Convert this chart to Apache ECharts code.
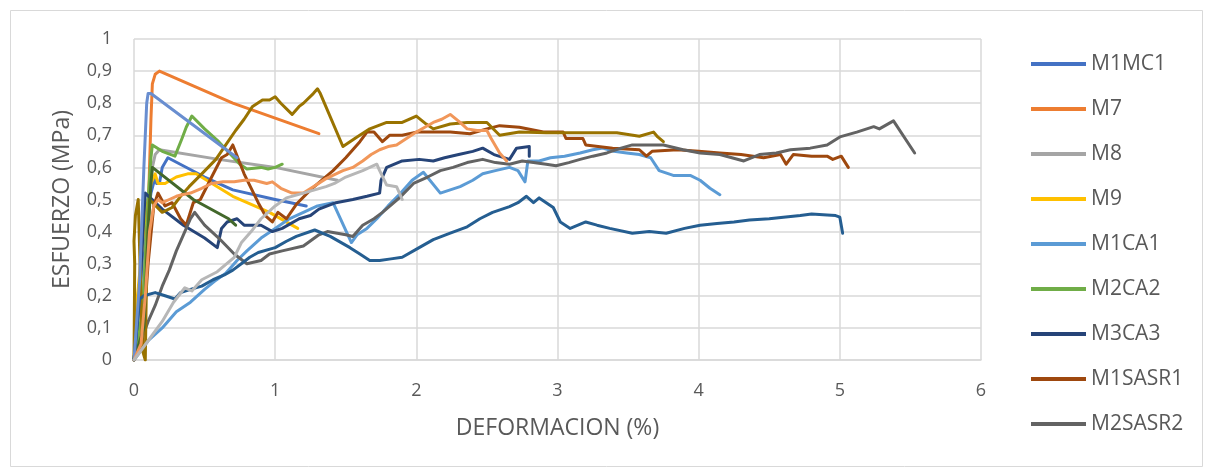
<!DOCTYPE html>
<html>
<head>
<meta charset="utf-8">
<script src="https://cdn.jsdelivr.net/npm/echarts@6/dist/echarts.min.js"></script>
<style>
  html, body { margin: 0; padding: 0; background: #ffffff; }
  #chart { width: 1208px; height: 470px; }
</style>
</head>
<body>
<div id="chart"></div>
<script>
// ---- data: [deformacion %, esfuerzo MPa] ----
const M1MC1 = [[0,0],[0.05,0.2],[0.09,0.42],[0.12,0.52],[0.15,0.57],[0.16,0.55],[0.18,0.55],[0.2,0.6],[0.24,0.63],[0.5,0.57],[0.7,0.53],[1.0,0.5],[1.22,0.48]];
const M7 = [[0,0],[0.06,0.1],[0.1,0.45],[0.12,0.75],[0.13,0.86],[0.15,0.89],[0.18,0.9],[0.7,0.8],[1.31,0.705]];
const M8 = [[0,0],[0.06,0.2],[0.1,0.45],[0.13,0.6],[0.15,0.64],[0.18,0.655],[0.6,0.625],[1.0,0.6],[1.44,0.56]];
const M9 = [[0,0],[0.01,0.1],[0.02,0.18],[0.08,0.45],[0.12,0.55],[0.15,0.58],[0.17,0.55],[0.22,0.55],[0.3,0.57],[0.38,0.58],[0.44,0.58],[0.7,0.51],[0.96,0.46],[1.16,0.41]];
const M1CA1 = [[0,0],[0.1,0.06],[0.2,0.1],[0.3,0.15],[0.4,0.18],[0.5,0.22],[0.57,0.245],[0.65,0.27],[0.73,0.31],[0.8,0.34],[0.9,0.38],[1.0,0.41],[1.1,0.44],[1.2,0.46],[1.3,0.48],[1.41,0.49],[1.54,0.366],[1.58,0.39],[1.65,0.41],[1.72,0.44],[1.8,0.48],[1.89,0.52],[1.97,0.56],[2.05,0.585],[2.17,0.52],[2.31,0.54],[2.4,0.56],[2.47,0.58],[2.56,0.59],[2.66,0.6],[2.72,0.59],[2.77,0.555],[2.79,0.62],[2.87,0.62],[2.95,0.63],[3.05,0.635],[3.16,0.645],[3.25,0.655],[3.32,0.66],[3.4,0.65],[3.49,0.645],[3.58,0.64],[3.66,0.63],[3.72,0.59],[3.82,0.575],[3.94,0.575],[4.01,0.56],[4.08,0.535],[4.15,0.515]];
const M2CA2 = [[0,0],[0.06,0.15],[0.1,0.5],[0.12,0.63],[0.13,0.67],[0.2,0.65],[0.29,0.635],[0.34,0.69],[0.37,0.725],[0.41,0.76],[0.5,0.72],[0.6,0.68],[0.75,0.61],[0.8,0.595],[0.9,0.6],[0.95,0.595],[1.0,0.6],[1.05,0.61]];
const M3CA3 = [[0,0],[0.04,0.2],[0.07,0.45],[0.08,0.52],[0.2,0.47],[0.35,0.42],[0.5,0.38],[0.59,0.35],[0.62,0.41],[0.66,0.43],[0.73,0.44],[0.78,0.42],[0.85,0.42],[0.9,0.42],[0.98,0.4],[1.05,0.41],[1.17,0.44],[1.25,0.45],[1.31,0.47],[1.43,0.49],[1.55,0.5],[1.65,0.51],[1.74,0.52],[1.75,0.56],[1.79,0.6],[1.9,0.62],[2.02,0.625],[2.12,0.62],[2.2,0.63],[2.3,0.64],[2.4,0.65],[2.47,0.66],[2.55,0.64],[2.66,0.625],[2.71,0.66],[2.8,0.665],[2.8,0.635]];
const M1SASR1 = [[0,0],[0.06,0.05],[0.1,0.3],[0.14,0.48],[0.17,0.52],[0.22,0.48],[0.27,0.49],[0.33,0.44],[0.37,0.42],[0.42,0.49],[0.47,0.5],[0.55,0.57],[0.62,0.63],[0.66,0.64],[0.7,0.67],[0.78,0.58],[0.88,0.49],[0.93,0.45],[0.98,0.43],[1.02,0.46],[1.08,0.44],[1.15,0.485],[1.25,0.53],[1.41,0.59],[1.5,0.63],[1.6,0.68],[1.65,0.71],[1.7,0.71],[1.76,0.68],[1.81,0.7],[1.9,0.7],[2.0,0.71],[2.24,0.71],[2.38,0.705],[2.5,0.72],[2.59,0.73],[2.73,0.725],[2.9,0.71],[3.04,0.71],[3.06,0.69],[3.18,0.69],[3.2,0.67],[3.39,0.66],[3.58,0.655],[3.63,0.635],[3.67,0.65],[3.85,0.655],[4.0,0.65],[4.15,0.645],[4.3,0.64],[4.46,0.63],[4.58,0.64],[4.62,0.61],[4.67,0.64],[4.8,0.635],[4.91,0.635],[4.95,0.625],[5.01,0.635],[5.06,0.6]];
const M2SASR2 = [[0,0],[0.05,0.06],[0.1,0.12],[0.15,0.17],[0.2,0.23],[0.25,0.28],[0.3,0.34],[0.35,0.39],[0.4,0.44],[0.43,0.46],[0.5,0.42],[0.6,0.38],[0.71,0.33],[0.8,0.3],[0.9,0.31],[0.96,0.33],[1.05,0.34],[1.2,0.355],[1.31,0.39],[1.37,0.4],[1.5,0.39],[1.55,0.385],[1.62,0.42],[1.7,0.44],[1.76,0.46],[1.88,0.505],[1.98,0.55],[2.08,0.57],[2.17,0.59],[2.26,0.6],[2.36,0.615],[2.47,0.625],[2.56,0.615],[2.66,0.61],[2.75,0.62],[2.83,0.615],[2.92,0.61],[2.99,0.605],[3.08,0.615],[3.16,0.625],[3.25,0.635],[3.35,0.645],[3.45,0.66],[3.53,0.67],[3.65,0.67],[3.75,0.67],[3.89,0.655],[4.01,0.645],[4.15,0.64],[4.32,0.62],[4.43,0.64],[4.55,0.645],[4.65,0.655],[4.79,0.66],[4.91,0.67],[5.0,0.695],[5.12,0.71],[5.24,0.727],[5.28,0.72],[5.38,0.745],[5.53,0.645]];
const SERIE10 = [[0,0],[0.005,0.3],[0.0,0.37],[0.01,0.45],[0.03,0.5],[0.06,0.03],[0.08,0],[0.09,0.3],[0.11,0.5],[0.2,0.46],[0.27,0.475],[0.33,0.51],[0.39,0.54],[0.48,0.58],[0.58,0.625],[0.65,0.67],[0.72,0.715],[0.78,0.75],[0.84,0.79],[0.91,0.81],[0.96,0.81],[1.0,0.82],[1.04,0.8],[1.12,0.765],[1.17,0.79],[1.2,0.8],[1.27,0.83],[1.3,0.845],[1.32,0.83],[1.48,0.665],[1.58,0.695],[1.67,0.72],[1.79,0.74],[1.9,0.74],[2.0,0.76],[2.07,0.735],[2.12,0.72],[2.24,0.735],[2.36,0.74],[2.5,0.74],[2.59,0.7],[2.73,0.71],[2.92,0.708],[3.42,0.708],[3.58,0.697],[3.68,0.71],[3.71,0.695],[3.75,0.68]];
const SERIE11 = [[0,0],[0.02,0.1],[0.04,0.19],[0.07,0.2],[0.15,0.21],[0.22,0.2],[0.29,0.19],[0.33,0.21],[0.4,0.22],[0.48,0.23],[0.56,0.25],[0.64,0.265],[0.7,0.28],[0.76,0.3],[0.82,0.32],[0.88,0.335],[1.0,0.35],[1.08,0.37],[1.15,0.385],[1.28,0.405],[1.39,0.385],[1.53,0.35],[1.6,0.33],[1.67,0.31],[1.74,0.31],[1.82,0.315],[1.9,0.32],[2.02,0.35],[2.12,0.375],[2.24,0.395],[2.36,0.415],[2.45,0.44],[2.54,0.46],[2.66,0.478],[2.72,0.49],[2.78,0.51],[2.83,0.49],[2.87,0.505],[2.97,0.475],[3.02,0.43],[3.09,0.41],[3.2,0.43],[3.28,0.42],[3.37,0.41],[3.53,0.395],[3.65,0.4],[3.77,0.395],[3.9,0.41],[4.01,0.42],[4.13,0.425],[4.25,0.43],[4.36,0.436],[4.5,0.44],[4.6,0.445],[4.72,0.45],[4.8,0.455],[4.91,0.452],[4.97,0.45],[5.0,0.445],[5.02,0.395]];
const SERIE12 = [[0,0],[0.07,0.1],[0.1,0.4],[0.12,0.55],[0.13,0.6],[0.42,0.5],[0.67,0.44],[0.72,0.42]];
const SERIE13 = [[0,0],[0.04,0.25],[0.07,0.6],[0.09,0.8],[0.1,0.83],[0.12,0.83],[0.73,0.63]];
const SERIE14 = [[0,0],[0.05,0.05],[0.08,0.2],[0.11,0.4],[0.14,0.48],[0.17,0.5],[0.2,0.49],[0.25,0.5],[0.3,0.51],[0.34,0.515],[0.4,0.52],[0.48,0.535],[0.55,0.55],[0.63,0.555],[0.71,0.555],[0.78,0.56],[0.85,0.56],[0.94,0.55],[0.98,0.555],[1.04,0.535],[1.12,0.52],[1.2,0.52],[1.27,0.54],[1.36,0.565],[1.48,0.59],[1.55,0.6],[1.62,0.62],[1.68,0.64],[1.74,0.655],[1.8,0.665],[1.86,0.67],[1.93,0.69],[2.0,0.71],[2.06,0.725],[2.12,0.74],[2.18,0.75],[2.24,0.765],[2.31,0.74],[2.36,0.72],[2.43,0.715],[2.5,0.715],[2.53,0.69],[2.59,0.645],[2.64,0.62]];
const SERIE15 = [[0,0],[0.1,0.06],[0.2,0.12],[0.28,0.18],[0.36,0.225],[0.41,0.215],[0.48,0.25],[0.59,0.275],[0.71,0.32],[0.76,0.365],[0.83,0.4],[0.9,0.44],[1.0,0.48],[1.08,0.505],[1.2,0.52],[1.28,0.53],[1.36,0.54],[1.42,0.55],[1.5,0.57],[1.62,0.59],[1.72,0.61],[1.74,0.59],[1.79,0.545],[1.86,0.54],[1.9,0.5]];

const seriesNames = ['M1MC1','M7','M8','M9','M1CA1','M2CA2','M3CA3','M1SASR1','M2SASR2','M3SASR3','M1AT1','M2AT2','M3AT3','M1AR1','M2AR2'];
const legendNames = ['M1MC1','M7','M8','M9','M1CA1','M2CA2','M3CA3','M1SASR1','M2SASR2'];
const seriesData = [M1MC1, M7, M8, M9, M1CA1, M2CA2, M3CA3, M1SASR1, M2SASR2, SERIE10, SERIE11, SERIE12, SERIE13, SERIE14, SERIE15];
const colors = ['#4472C4','#ED7D31','#A5A5A5','#FFC000','#5B9BD5','#70AD47','#264478','#9E480E','#636363','#997300','#255E91','#43682B','#698ED0','#F1975A','#B7B7B7'];
const xTicks = [0,1,2,3,4,5,6];

const chart = echarts.init(document.getElementById('chart'), null, {renderer: 'canvas'});
const FONT = 'Open Sans';
chart.setOption({
  animation: false,
  backgroundColor: '#ffffff',
  color: colors,
  graphic: [{
    type: 'rect', left: 8, top: 8, silent: true,
    shape: {width: 1192, height: 456},
    style: {fill: 'none', stroke: '#d9d9d9', lineWidth: 1}
  }],
  grid: {left: 134, right: 227, top: 39, bottom: 110, containLabel: false},
  legend: {
    data: legendNames,
    orient: 'vertical',
    left: 1026, top: 48,
    itemWidth: 55, itemHeight: 4,
    itemGap: 23,
    icon: 'rect',
    textStyle: {fontFamily: FONT, fontSize: 21, color: '#595959', lineHeight: 22}
  },
  xAxis: {
    type: 'value', min: xTicks[0], max: xTicks[xTicks.length-1], interval: 1,
    name: 'DEFORMACION (%)', nameLocation: 'middle', nameGap: 57,
    nameTextStyle: {fontFamily: FONT, fontSize: 23, color: '#595959'},
    axisLine: {show: true, lineStyle: {color: '#d9d9d9', width: 1.5}},
    axisTick: {show: false},
    axisLabel: {fontFamily: FONT, fontSize: 18, color: '#595959', margin: 22},
    splitLine: {show: true, lineStyle: {color: '#d9d9d9', width: 1.5}}
  },
  yAxis: {
    type: 'value', min: 0, max: 1, interval: 0.1,
    name: 'ESFUERZO (MPa)', nameLocation: 'middle', nameGap: 60,
    nameTextStyle: {fontFamily: FONT, fontSize: 23, color: '#595959'},
    axisLine: {show: false},
    axisTick: {show: false},
    axisLabel: {fontFamily: FONT, fontSize: 18, color: '#595959', margin: 22,
      formatter: v => String(Math.round(v*10)/10).replace('.', ',')},
    splitLine: {show: true, lineStyle: {color: '#d9d9d9', width: 1.5}}
  },
  series: seriesData.map((d, i) => ({
    name: seriesNames[i],
    type: 'line',
    data: d,
    showSymbol: false,
    symbol: 'none',
    smooth: false,
    lineStyle: {width: 3, color: colors[i], join: 'round', cap: 'round'},
    itemStyle: {color: colors[i]},
    emphasis: {disabled: true}
  }))
});
</script>
</body>
</html>
